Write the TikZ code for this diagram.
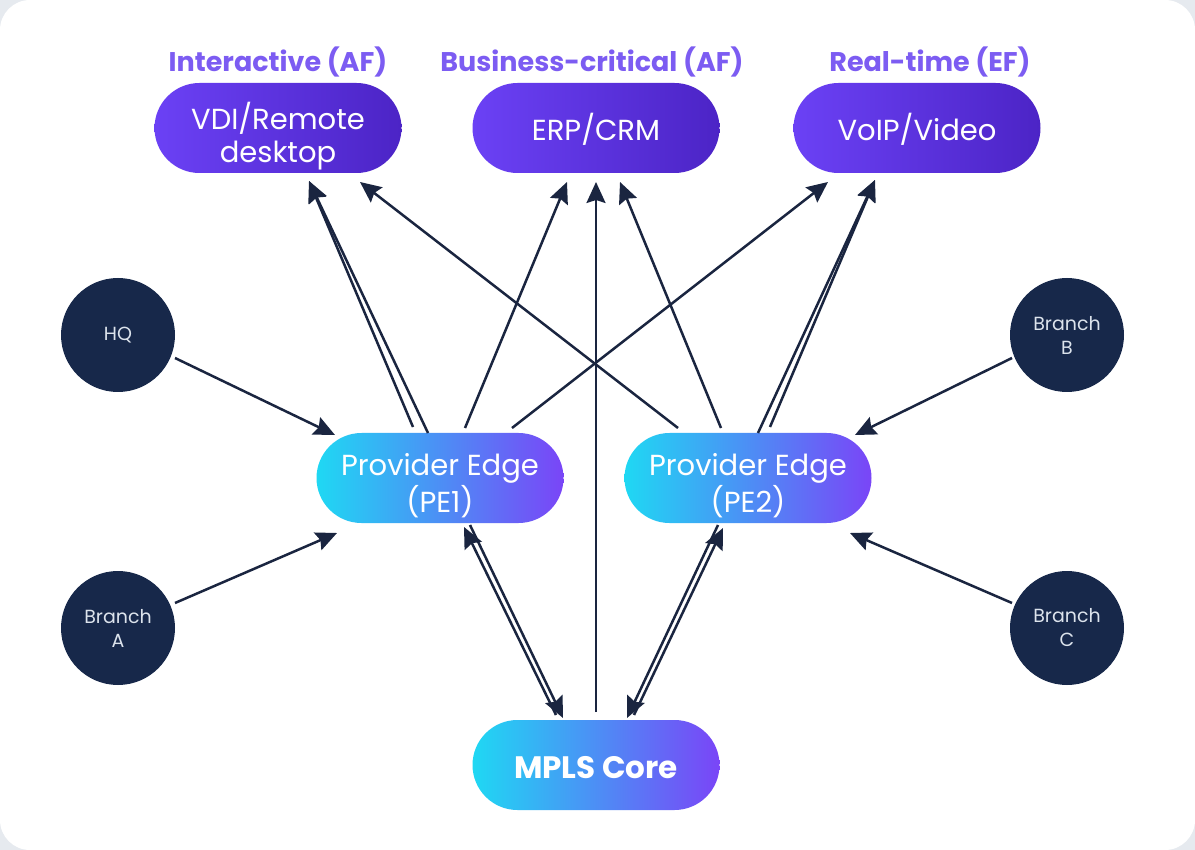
\documentclass[tikz,border=0pt]{standalone}
\usepackage{fontspec}
\setmainfont{Poppins}
\usetikzlibrary{arrows.meta,calc}
\definecolor{bgc}{HTML}{E6EAEF}
\definecolor{appL}{HTML}{6B41F5}
\definecolor{appR}{HTML}{4C24C6}
\definecolor{peL}{HTML}{1FD8F3}
\definecolor{peR}{HTML}{7A45F7}
\definecolor{navy}{HTML}{17284A}
\definecolor{sitetext}{HTML}{DCE3EC}
\definecolor{titlec}{HTML}{7C5CF2}
\definecolor{arrowc}{HTML}{1A2540}
\newcommand{\lowtext}[2]{\raisebox{-#1pt}[\height][\depth]{\begin{tabular}{@{}c@{}}#2\end{tabular}}}
\begin{document}
\begin{tikzpicture}[x=1pt,y=-1pt,
  pill/.style={rectangle, rounded corners=45pt, minimum width=247pt, minimum height=90pt,
    text=white, align=center, font=\fontsize{29}{33}\selectfont, inner sep=0pt},
  app/.style={pill, left color=appL, right color=appR},
  pe/.style={pill, left color=peL, right color=peR},
  site/.style={circle, fill=navy, minimum size=114pt, text=sitetext,
    font=\fontsize{19}{24}\selectfont, align=center, inner sep=0pt},
  cls/.style={text=titlec, font=\bfseries\fontsize{27}{32}\selectfont, inner sep=0pt},
  link/.style={draw=arrowc, line width=2.5pt, -{Stealth[length=21pt,width=19pt,inset=3pt]}}
]
\useasboundingbox (0,0) rectangle (1195,850);
\fill[bgc] (0,0) rectangle (1195,850);
\fill[white, rounded corners=30pt] (0,0) rectangle (1195,850);

% titles
\node[cls] (t1) at (278,62) {Interactive (AF)};
\node[cls] (t2) at (592,62) {Business-critical (AF)};
\node[cls] (t3) at (930,62) {Real-time (EF)};

% application nodes
\node[app] (vdi) at (278,128) {\lowtext{9}{VDI/Remote\\desktop}};
\node[app] (erp) at (596,128) {\lowtext{4}{ERP/CRM}};
\node[app] (voip) at (917,128) {\lowtext{4}{VoIP/Video}};

% sites
\node[site] (hq) at (118,335) {HQ};
\node[site] (ba) at (118,628) {Branch\\A};
\node[site] (bb) at (1067,335) {Branch\\B};
\node[site] (bc) at (1067,628) {Branch\\C};

% provider edges and core
\node[pe] (pe1) at (440,478) {\lowtext{9}{Provider Edge\\(PE1)}};
\node[pe] (pe2) at (748,478) {\lowtext{9}{Provider Edge\\(PE2)}};
\node[pe, font=\bfseries\fontsize{31}{36}\selectfont] (core) at (596,765) {\lowtext{6}{MPLS Core}};

% sites to PEs
\draw[link] ($(hq)+(57,23)$) -- ($(pe1)+(-105,-43)$);
\draw[link] ($(ba)+(57,-25)$) -- ($(pe1)+(-103,55)$);
\draw[link] ($(bb)+(-55,23)$) -- ($(pe2)+(107,-43)$);
\draw[link] ($(bc)+(-55,-25)$) -- ($(pe2)+(102,55)$);

% PEs to applications
\draw[link] ($(pe1)+(-27,-51)$) -- ($(vdi)+(31,53)$);
\draw[link] ($(pe1)+(-12,-45)$) -- ($(vdi)+(31,53)$);
\draw[link] ($(pe2)+(-70,-50)$) -- ($(vdi)+(82,54)$);
\draw[link] ($(pe1)+(25,-50)$) -- ($(erp)+(-29,54)$);
\draw[link] ($(core)+(0,-53)$) -- ($(erp)+(0,54)$);
\draw[link] ($(pe2)+(-27,-50)$) -- ($(erp)+(24,54)$);
\draw[link] ($(pe1)+(72,-50)$) -- ($(voip)+(-89,54)$);
\draw[link] ($(pe2)+(10,-45)$) -- ($(voip)+(-42,52)$);
\draw[link] ($(pe2)+(22,-51)$) -- ($(voip)+(-42,52)$);

% PEs and core
\draw[link] ($(pe1)+(30,47)$) -- ($(core)+(-33,-47)$);
\draw[link] ($(core)+(-40,-50)$) -- ($(pe1)+(24,49)$);
\draw[link] ($(pe2)+(-30,47)$) -- ($(core)+(31,-47)$);
\draw[link] ($(core)+(38,-50)$) -- ($(pe2)+(-25,50)$);
\end{tikzpicture}
\end{document}
